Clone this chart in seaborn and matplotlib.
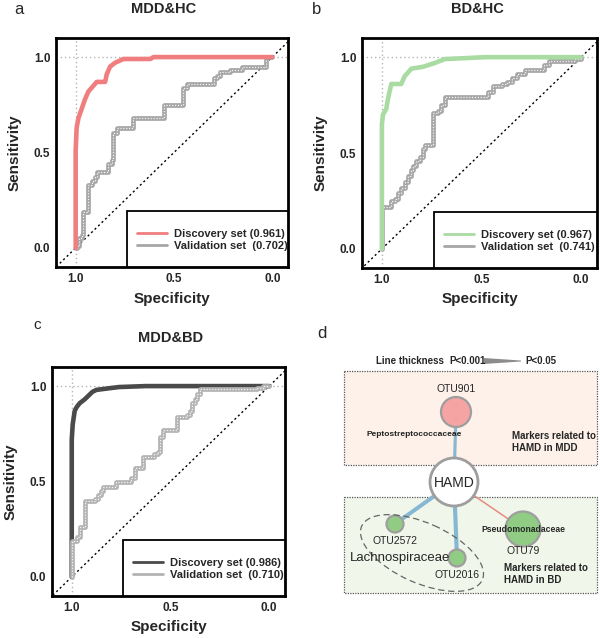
import matplotlib.pyplot as plt
import matplotlib.patches as mpatches
from matplotlib.lines import Line2D
import seaborn as sns
import pandas as pd

# ROC curves: specificity / sensitivity
a_disc_spec = [1.0, 1.0, 0.995, 0.986, 0.969, 0.952, 0.935, 0.918, 0.893, 0.850, 0.842, 0.825, 0.800, 0.757, 0.620, 0.604, 0.0]
a_disc_sens = [0.0, 0.51, 0.63, 0.68, 0.73, 0.78, 0.82, 0.84, 0.87, 0.87, 0.91, 0.95, 0.97, 0.99, 0.99, 1.0, 1.0]
a_val_spec = [1.0, 0.995, 0.981, 0.969, 0.961, 0.935, 0.918, 0.901, 0.893, 0.833, 0.816, 0.808, 0.791, 0.706,
              0.553, 0.454, 0.434, 0.298, 0.281, 0.264, 0.213, 0.153, 0.034, 0.0]
a_val_sens = [0.0, 0.01, 0.05, 0.07, 0.19, 0.33, 0.35, 0.37, 0.40, 0.44, 0.46, 0.60, 0.63, 0.68,
              0.75, 0.84, 0.86, 0.89, 0.90, 0.92, 0.93, 0.95, 1.0, 1.0]

b_disc_spec = [1.0, 1.0, 0.995, 0.978, 0.970, 0.953, 0.903, 0.886, 0.852, 0.793, 0.734, 0.684, 0.480, 0.0]
b_disc_sens = [0.0, 0.65, 0.70, 0.73, 0.78, 0.86, 0.86, 0.90, 0.94, 0.95, 0.97, 0.99, 1.0, 1.0]
b_val_spec = [1.0, 1.0, 0.953, 0.936, 0.919, 0.903, 0.886, 0.869, 0.852, 0.844, 0.827, 0.810, 0.793, 0.785, 0.743,
              0.718, 0.701, 0.684, 0.466, 0.440, 0.398, 0.373, 0.348, 0.323, 0.281, 0.188, 0.163, 0.029, 0.0]
b_val_sens = [0.0, 0.22, 0.25, 0.26, 0.29, 0.32, 0.35, 0.38, 0.41, 0.43, 0.46, 0.48, 0.52, 0.54, 0.71,
              0.72, 0.75, 0.79, 0.82, 0.85, 0.86, 0.87, 0.89, 0.91, 0.935, 0.96, 0.98, 0.99, 1.0]

c_disc_spec = [1.0, 1.0, 0.995, 0.985, 0.975, 0.96, 0.935, 0.91, 0.895, 0.875, 0.80, 0.76, 0.625, 0.0]
c_disc_sens = [0.0, 0.72, 0.80, 0.87, 0.89, 0.91, 0.93, 0.955, 0.97, 0.98, 0.99, 0.995, 1.0, 1.0]
c_val_spec = [1.0, 1.0, 0.975, 0.958, 0.933, 0.883, 0.866, 0.850, 0.841, 0.774, 0.700, 0.680, 0.640, 0.582,
              0.565, 0.553, 0.540, 0.465, 0.415, 0.400, 0.390, 0.375, 0.365, 0.350, 0.060, 0.030, 0.0]
c_val_sens = [0.0, 0.19, 0.21, 0.26, 0.40, 0.41, 0.43, 0.45, 0.47, 0.50, 0.52, 0.57, 0.63, 0.645,
              0.655, 0.734, 0.77, 0.84, 0.85, 0.87, 0.91, 0.93, 0.96, 0.986, 0.99, 1.0, 1.0]

auc_disc = ['0.961', '0.967', '0.986']
auc_val = ['0.702', '0.741', '0.710']
titles = ['MDD&HC', 'BD&HC', 'MDD&BD']

# network panel d
nodes = ['HAMD', 'OTU901', 'OTU2572', 'OTU2016', 'OTU79']
node_family = ['', 'Peptostreptococcaceae', 'Lachnospiraceae', 'Lachnospiraceae', 'Pseudomonadaceae']
node_group = ['index', 'MDD', 'BD', 'BD', 'BD']
edge_target = ['OTU901', 'OTU2572', 'OTU2016', 'OTU79']
edge_sign = [-1, -1, -1, 1]
edge_strength = [0.7, 0.95, 1.0, 0.2]

sns.set_style('white')
plt.rcParams['font.family'] = ['Liberation Sans', 'DejaVu Sans']

W, H = 600, 638
fig = plt.figure(figsize=(6, 6.38), dpi=100)


def rect(left, top, right, bottom):
    return [left / W, 1 - bottom / H, (right - left) / W, (bottom - top) / H]


def ftext(x, y, s, **kw):
    fig.text(x / W, 1 - y / H, s, ha='center', va='center', **kw)


def roc_panel(box, disc, val, disc_color, val_color, i, val_on_top):
    ax = fig.add_axes(rect(*box))
    dotted = (0, (1, 2))
    ax.axvline(1.0, color='#b5b5b5', lw=1, ls=dotted, zorder=1)
    ax.axhline(1.0, color='#b5b5b5', lw=1, ls=dotted, zorder=1)
    ax.axline((1, 0), (0, 1), color='black', lw=1, ls=(0, (1.5, 2)), zorder=1)
    vz = 4 if val_on_top else 2
    sns.lineplot(data=val, x='spec', y='sens', sort=False, estimator=None,
                 drawstyle='steps-post', color=val_color, lw=3.4, ax=ax, zorder=vz)
    sns.lineplot(data=val, x='spec', y='sens', sort=False, estimator=None,
                 drawstyle='steps-post', color='#f4f4f4', lw=0.9, ls=(0, (1, 1.3)), ax=ax, zorder=vz + 0.1)
    sns.lineplot(data=disc, x='spec', y='sens', sort=False, estimator=None,
                 color=disc_color, lw=3.3, ax=ax, zorder=3)
    ax.set_xlim(1.1, -0.08)
    ax.set_ylim(-0.1, 1.1)
    ax.set_xticks([1.0, 0.5, 0.0])
    ax.set_yticks([0.0, 0.5, 1.0])
    ax.tick_params(length=0, labelsize=8.5, pad=4)
    for lab in ax.get_xticklabels() + ax.get_yticklabels():
        lab.set_fontweight('bold')
    ax.set_xlabel('Specificity', fontsize=11, fontweight='bold', labelpad=5)
    ax.set_ylabel('Sensitivity', fontsize=11, fontweight='bold', labelpad=9)
    for sp in ax.spines.values():
        sp.set_linewidth(2)
        sp.set_color('black')
    ax.add_patch(mpatches.Rectangle((0.306, 0), 0.694, 0.245, transform=ax.transAxes,
                                    facecolor='white', edgecolor='black', lw=1.3, zorder=5))
    handles = [Line2D([], [], color=disc_color, lw=2),
               Line2D([], [], color=val_color, lw=2)]
    labels = ['Discovery set (%s)' % auc_disc[i], 'Validation set  (%s)' % auc_val[i]]
    leg = ax.legend(handles, labels, loc='center left', bbox_to_anchor=(0.325, 0.118),
                    frameon=False, handlelength=2.7, handletextpad=0.6, labelspacing=0.15,
                    borderpad=0, prop={'weight': 'bold', 'size': 8})
    leg.set_zorder(6)
    return ax


def frame(spec, sens):
    return pd.DataFrame({'spec': spec, 'sens': sens})


roc_panel((56, 38, 288, 267), frame(a_disc_spec, a_disc_sens), frame(a_val_spec, a_val_sens),
          '#f07e7e', '#a6a6a6', 0, False)
roc_panel((362, 38, 597, 268), frame(b_disc_spec, b_disc_sens), frame(b_val_spec, b_val_sens),
          '#a9dba3', '#a6a6a6', 1, False)
roc_panel((52, 367, 285, 596), frame(c_disc_spec, c_disc_sens), frame(c_val_spec, c_val_sens),
          '#4a4a4a', '#b3b3b3', 2, True)

ftext(164, 9, titles[0], fontsize=10.5, fontweight='bold')
ftext(477, 9, titles[1], fontsize=10.5, fontweight='bold')
ftext(171, 338, titles[2], fontsize=10.5, fontweight='bold')
ftext(19, 9, 'a', fontsize=12)
ftext(317, 9, 'b', fontsize=12)
ftext(37, 325, 'c', fontsize=11)
ftext(322, 333, 'd', fontsize=12)

# panel d: network drawn in pixel coordinates
axd = fig.add_axes(rect(300, 310, 600, 638))
axd.set_xlim(300, 600)
axd.set_ylim(638, 310)
axd.axis('off')

layout = {'HAMD': (454, 482, 24), 'OTU901': (456, 412, 15), 'OTU2572': (395, 524, 8.5),
          'OTU2016': (457, 558, 8.5), 'OTU79': (523, 529, 17.5)}
fill = {'index': 'white', 'MDD': '#f5a3a3', 'BD': '#91cc84'}

axd.add_patch(mpatches.Rectangle((344, 371), 253, 94, facecolor='#fdf1ea', edgecolor='#555555',
                                 ls=(0, (1, 1)), lw=0.9, zorder=0))
axd.add_patch(mpatches.Rectangle((344, 497), 253, 96, facecolor='#f1f6ea', edgecolor='#555555',
                                 ls=(0, (1, 1)), lw=0.9, zorder=0))

hx, hy, _ = layout['HAMD']
for tgt, sign, strength in zip(edge_target, edge_sign, edge_strength):
    tx, ty, _ = layout[tgt]
    axd.plot([hx, tx], [hy, ty], color='#86b8d3' if sign < 0 else '#e58a7e',
             lw=0.6 + 2.4 * strength, zorder=1, solid_capstyle='butt')

for name, grp in zip(nodes, node_group):
    x, y, r = layout[name]
    axd.add_patch(mpatches.Circle((x, y), r, facecolor=fill[grp], edgecolor='#9e9e9e',
                                  lw=2 if grp == 'index' else 1.6, zorder=2))

axd.add_patch(mpatches.Ellipse((422, 553), 132, 60, angle=24, fill=False, edgecolor='#666666',
                               ls=(0, (5, 3)), lw=0.9, zorder=3))

axd.text(hx, hy + 1, 'HAMD', ha='center', va='center', fontsize=10, zorder=4)
axd.text(456, 389, nodes[1], ha='center', va='center', fontsize=7.5)
axd.text(414, 435, node_family[1], ha='center', va='center', fontsize=6, fontweight='bold', color='#222222')
axd.text(395, 541, nodes[2], ha='center', va='center', fontsize=7.5)
axd.text(457, 575, nodes[3], ha='center', va='center', fontsize=7.5)
axd.text(523, 530, node_family[4], ha='center', va='center', fontsize=6.2, fontweight='bold', zorder=4)
axd.text(523, 551, nodes[4], ha='center', va='center', fontsize=7.5)
axd.text(350, 558, node_family[2], ha='left', va='center', fontsize=9.5, zorder=4)
axd.text(512, 442, 'Markers related to\nHAMD in MDD', ha='left', va='center', fontsize=7,
         fontweight='bold', linespacing=1.3)
axd.text(504, 574, 'Markers related to\nHAMD in BD', ha='left', va='center', fontsize=7,
         fontweight='bold', linespacing=1.3)

axd.text(376, 361, 'Line thickness', ha='left', va='center', fontsize=7, fontweight='bold')
axd.text(449, 361, 'P<0.001', ha='left', va='center', fontsize=7, fontweight='bold')
axd.add_patch(mpatches.Polygon([(484, 358), (484, 364), (521, 361.5), (521, 360.5)],
                               closed=True, facecolor='#8c8c8c', edgecolor='none'))
axd.text(525, 361, 'P<0.05', ha='left', va='center', fontsize=7, fontweight='bold')

fig.savefig('out.png', dpi=100)
